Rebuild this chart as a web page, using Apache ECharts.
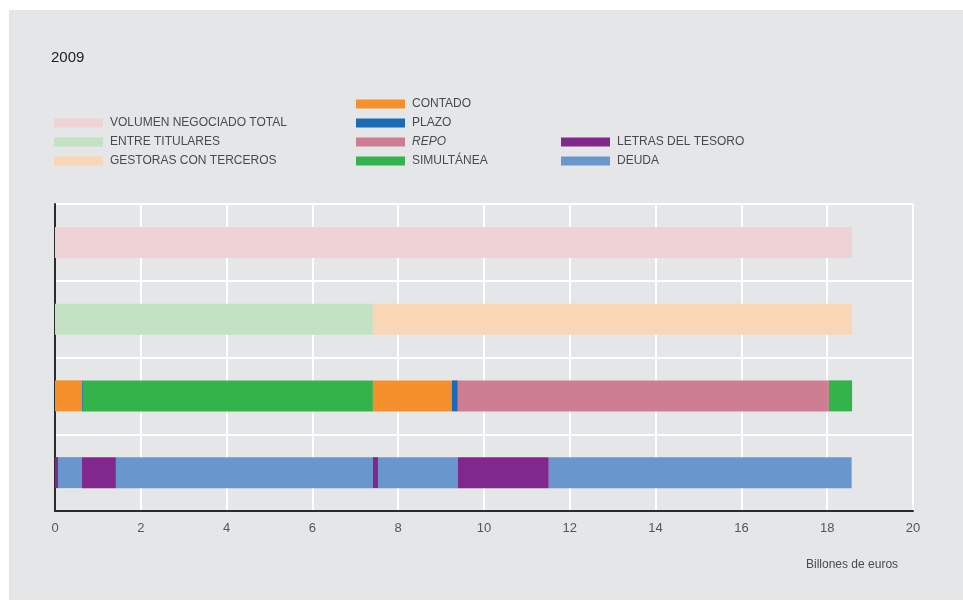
<!DOCTYPE html>
<html>
<head>
<meta charset="utf-8">
<script src="https://cdn.jsdelivr.net/npm/echarts@6/dist/echarts.min.js"></script>
<style>
  html, body { margin: 0; padding: 0; background: #ffffff; }
  #chart { width: 963px; height: 601px; }
</style>
</head>
<body>
<div id="chart"></div>
<script>
// filas del gráfico (de arriba abajo)
const categories = ['Total', 'Tipo', 'Operación', 'Activo']
const xTicks = [0, 2, 4, 6, 8, 10, 12, 14, 16, 18, 20]

// fila 1: volumen total
const totalNames = ['VOLUMEN NEGOCIADO TOTAL']
const totalValues = [18.58]
// fila 2: por tipo de operador
const tipoNames = ['ENTRE TITULARES', 'GESTORAS CON TERCEROS']
const tipoValues = [7.41, 11.17]
// fila 3: por tipo de operación
const operNames = ['CONTADO', 'PLAZO', 'SIMULTÁNEA', 'CONTADO', 'PLAZO', 'REPO', 'SIMULTÁNEA']
const operValues = [0.63, 0.02, 6.76, 1.84, 0.14, 8.65, 0.54]
// fila 4: por tipo de activo
const activoNames = ['LETRAS DEL TESORO', 'DEUDA', 'LETRAS DEL TESORO', 'DEUDA', 'LETRAS DEL TESORO', 'DEUDA', 'LETRAS DEL TESORO', 'DEUDA']
const activoValues = [0.07, 0.56, 0.79, 5.99, 0.12, 1.86, 2.12, 7.06]

const colors = {
  'VOLUMEN NEGOCIADO TOTAL': '#efd2d6',
  'ENTRE TITULARES': '#c3e2c4',
  'GESTORAS CON TERCEROS': '#f9d6b6',
  'CONTADO': '#f6902c',
  'PLAZO': '#1c6cb5',
  'REPO': '#ce7e92',
  'SIMULTÁNEA': '#34b34b',
  'LETRAS DEL TESORO': '#80288e',
  'DEUDA': '#6996cd'
}

const rows = [
  [totalNames, totalValues],
  [tipoNames, tipoValues],
  [operNames, operValues],
  [activoNames, activoValues]
]

const series = []
rows.forEach(([names, values], rowIdx) => {
  names.forEach((name, i) => {
    const data = categories.map((c, k) => (k === rowIdx ? values[i] : '-'))
    series.push({
      name,
      type: 'bar',
      stack: 'total',
      barWidth: 31,
      data,
      itemStyle: { color: colors[name] },
      emphasis: { disabled: true }
    })
  })
})

const font = 'Liberation Sans, Arial, sans-serif'
const legendText = {
  color: '#4a4a4a',
  fontSize: 12,
  fontFamily: font,
  lineHeight: 14,
  padding: [0, 0, 0, 2],
  rich: { i: { fontStyle: 'italic', color: '#4a4a4a', fontSize: 12, fontFamily: font } }
}
const makeLegend = (left, top, data) => ({
  orient: 'vertical',
  left,
  top,
  data,
  icon: 'rect',
  itemWidth: 49,
  itemHeight: 9,
  itemGap: 5,
  padding: 0,
  selectedMode: false,
  textStyle: legendText,
  formatter: name => (name === 'REPO' ? '{i|REPO}' : name)
})

const chart = echarts.init(document.getElementById('chart'))
chart.setOption({
  backgroundColor: '#ffffff',
  animation: false,
  graphic: [
    {
      type: 'rect',
      z: -10,
      shape: { x: 9, y: 10, width: 954, height: 590 },
      style: { fill: '#e5e6e8' }
    },
    {
      type: 'text',
      left: 806,
      top: 559,
      style: { text: 'Billones de euros', fill: '#4a4a4a', fontSize: 12, fontFamily: font }
    }
  ],
  title: {
    text: '2009',
    left: 51,
    top: 50,
    padding: 0,
    textStyle: { color: '#222222', fontSize: 15, fontWeight: 'normal', fontFamily: font }
  },
  legend: [
    makeLegend(54, 116, ['VOLUMEN NEGOCIADO TOTAL', 'ENTRE TITULARES', 'GESTORAS CON TERCEROS']),
    makeLegend(356, 97, ['CONTADO', 'PLAZO', 'REPO', 'SIMULTÁNEA']),
    makeLegend(561, 135, ['LETRAS DEL TESORO', 'DEUDA'])
  ],
  grid: { left: 55, right: 50, top: 204, bottom: 90 },
  xAxis: {
    type: 'value',
    min: xTicks[0],
    max: xTicks[xTicks.length - 1],
    interval: xTicks[1] - xTicks[0],
    axisLine: { show: true, lineStyle: { color: '#2b2b2b', width: 2 } },
    axisTick: { show: false },
    axisLabel: { color: '#555555', fontSize: 13, margin: 11, fontFamily: font },
    splitLine: { show: true, lineStyle: { color: '#ffffff', width: 2 } }
  },
  yAxis: {
    type: 'category',
    data: categories,
    inverse: true,
    axisLine: { show: true, lineStyle: { color: '#2b2b2b', width: 2 } },
    axisTick: { show: false },
    axisLabel: { show: false },
    splitLine: { show: true, lineStyle: { color: '#ffffff', width: 2 } }
  },
  series
})
</script>
</body>
</html>
